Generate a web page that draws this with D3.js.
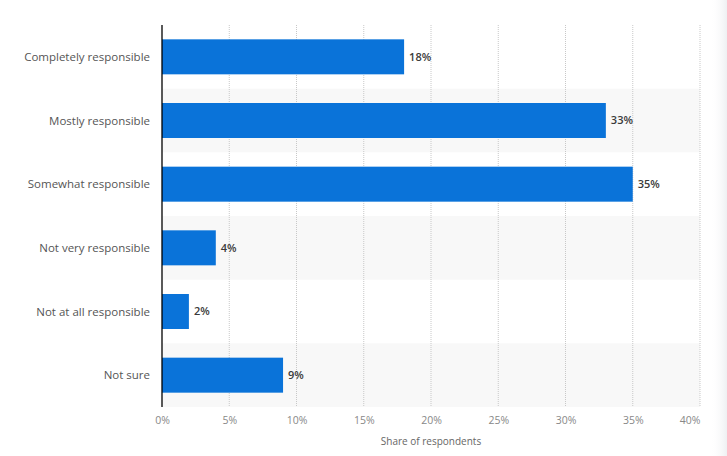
<!DOCTYPE html>
<meta charset="UTF-8">
<style>
body { margin: 0; background: #fff; }
svg text { font-family: "Open Sans", "DejaVu Sans", sans-serif; }
.grid line { stroke: #c8c8c8; stroke-dasharray: 1,1; }
</style>
<body>
<script src="https://d3js.org/d3.v7.min.js"></script>
<script>

// data
var categories = ["Completely responsible", "Mostly responsible", "Somewhat responsible",
                  "Not very responsible", "Not at all responsible", "Not sure"];
var values = [18, 33, 35, 4, 2, 9];
var ticks = [0, 5, 10, 15, 20, 25, 30, 35, 40];

var W = 727, H = 456;
var margin = {top: 25, right: 27, bottom: 49, left: 162};
var width = W - margin.left - margin.right,
    height = H - margin.top - margin.bottom;

var svg = d3.select("body").append("svg")
    .attr("width", W)
    .attr("height", H);

// faint shadow at the right edge
var defs = svg.append("defs");
var grad = defs.append("linearGradient").attr("id", "shade");
grad.append("stop").attr("offset", "0%").attr("stop-color", "#fff").attr("stop-opacity", 0);
grad.append("stop").attr("offset", "100%").attr("stop-color", "#eef0f2").attr("stop-opacity", 1);
svg.append("rect").attr("x", 710).attr("y", 0).attr("width", 17).attr("height", H)
    .attr("fill", "url(#shade)");

var g = svg.append("g")
    .attr("transform", "translate(" + margin.left + "," + margin.top + ")");

var x = d3.scaleLinear().domain([0, 40]).range([0, width]);
var y = d3.scaleBand().domain(categories).range([0, height]).paddingInner(0).paddingOuter(0);

// alternating row backgrounds
g.selectAll("rect.band")
  .data(categories.filter(function(d, i) { return i % 2 === 1; }))
  .enter().append("rect")
    .attr("class", "band")
    .attr("x", 0)
    .attr("y", function(d) { return y(d); })
    .attr("width", x(40))
    .attr("height", y.bandwidth())
    .attr("fill", "#f8f8f8");

// vertical dotted gridlines
g.append("g").attr("class", "grid")
  .selectAll("line")
  .data(ticks.slice(1))
  .enter().append("line")
    .attr("x1", function(d) { return x(d); })
    .attr("x2", function(d) { return x(d); })
    .attr("y1", 0)
    .attr("y2", height);

// bars
var barH = 35;
g.selectAll("rect.bar")
  .data(values)
  .enter().append("rect")
    .attr("class", "bar")
    .attr("x", 0)
    .attr("y", function(d, i) { return y(categories[i]) + (y.bandwidth() - barH) / 2; })
    .attr("width", function(d) { return x(d); })
    .attr("height", barH)
    .attr("fill", "#0a73d9");

// value labels
g.selectAll("text.val")
  .data(values)
  .enter().append("text")
    .attr("class", "val")
    .attr("x", function(d) { return x(d) + 5; })
    .attr("y", function(d, i) { return y(categories[i]) + y.bandwidth() / 2; })
    .attr("dy", "0.35em")
    .attr("font-size", 11)
    .attr("font-weight", 600)
    .attr("fill", "#3a3a3a")
    .text(function(d) { return d + "%"; });

// category labels
g.selectAll("text.cat")
  .data(categories)
  .enter().append("text")
    .attr("class", "cat")
    .attr("x", -12)
    .attr("y", function(d) { return y(d) + y.bandwidth() / 2; })
    .attr("dy", "0.35em")
    .attr("text-anchor", "end")
    .attr("font-size", 11.5)
    .attr("fill", "#555")
    .text(function(d) { return d; });

// left axis line
g.append("line")
    .attr("x1", 0).attr("x2", 0)
    .attr("y1", 0).attr("y2", height)
    .attr("stroke", "#000")
    .attr("stroke-width", 1.3);

// x axis tick labels
var xAxis = d3.axisBottom(x).tickValues(ticks).tickSize(0).tickPadding(10)
    .tickFormat(function(d) { return d + "%"; });
var ax = g.append("g").attr("transform", "translate(0," + height + ")").call(xAxis);
ax.select(".domain").remove();
ax.selectAll("text")
    .attr("font-family", "\"Open Sans\", \"DejaVu Sans\", sans-serif")
    .attr("font-size", 10.5)
    .attr("fill", "#888");
// last label kept inside the plot edge
ax.selectAll(".tick").filter(function(d) { return d === 40; })
  .select("text").attr("text-anchor", "end").attr("x", 0);

// axis title
g.append("text")
    .attr("x", width / 2)
    .attr("y", height + 38)
    .attr("text-anchor", "middle")
    .attr("font-size", 10)
    .attr("fill", "#666")
    .text("Share of respondents");

</script>
</body>
